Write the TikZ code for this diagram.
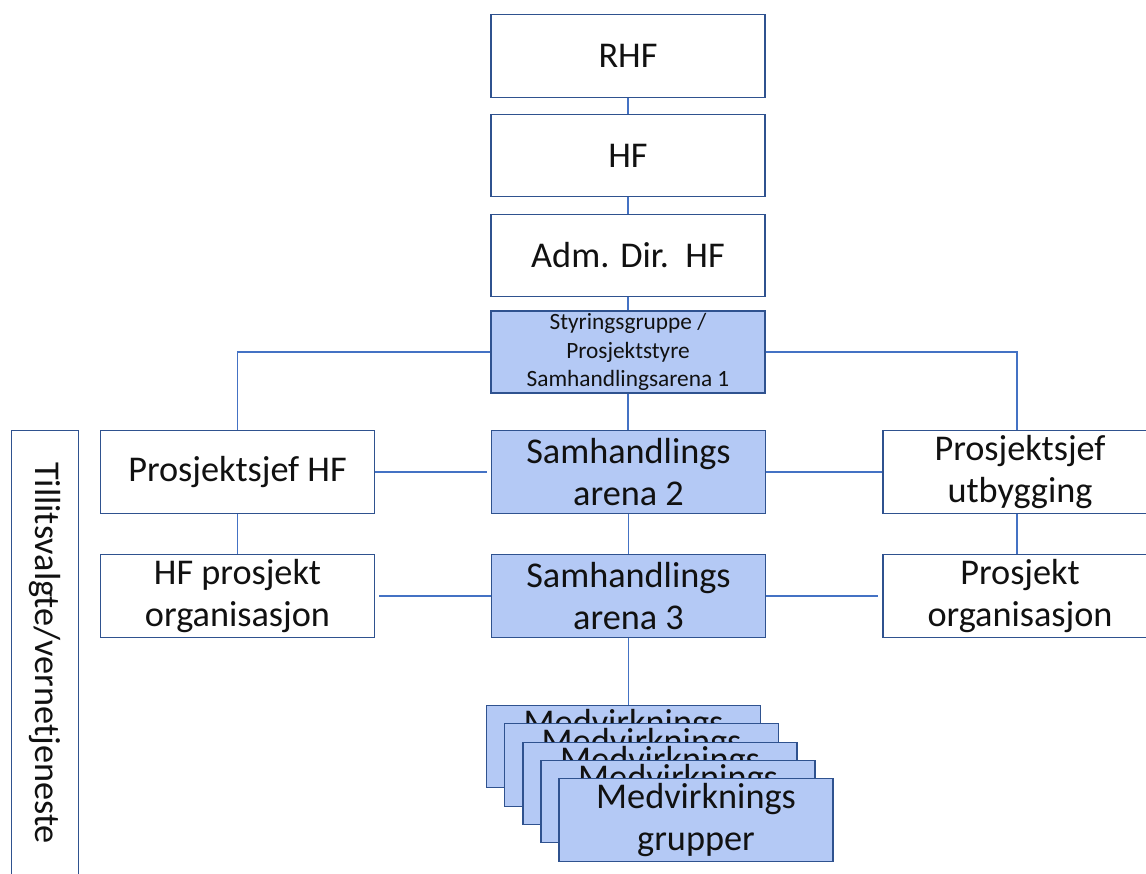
\documentclass[tikz,border=0pt]{standalone}
\usepackage{fontspec}
\setmainfont{Carlito}
\definecolor{linec}{HTML}{4472C4}
\definecolor{boxc}{HTML}{2F528F}
\definecolor{fillc}{HTML}{B4C9F5}
\definecolor{txtc}{HTML}{111111}
\begin{document}
\begin{tikzpicture}[x=0.75pt,y=-0.75pt,
  box/.style={draw=boxc,line width=0.9pt,fill=white,minimum width=205.5pt,minimum height=62pt,
    inner sep=0pt,align=center,text=txtc,font=\fontsize{27.2}{31.5}\selectfont},
  bluebox/.style={box,fill=fillc},
  conn/.style={draw=linec,line width=0.9pt}]
\useasboundingbox (0,0) rectangle (1146,874);
\clip (0,0) rectangle (1146,874);
\fill[white] (0,0) rectangle (1146,874);
% main column
\node[box] (rhf) at (628,56) {RHF};
\node[box] (hf) at (628,155.5) {HF};
\node[box] (adm) at (628,255.5) {Adm. Dir.\ \ HF};
\node[bluebox,minimum height=61.5pt,font=\fontsize{17.5}{21.5}\selectfont] (sty) at (628,352)
  {Styringsgruppe /\\Prosjektstyre\\Samhandlingsarena 1};
\node[bluebox] (sam2) at (628.5,472) {Samhandlings\\arena 2};
\node[bluebox] (sam3) at (628.5,596) {Samhandlings\\arena 3};
% left column
\node[box] (phf) at (237.5,472) {Prosjektsjef HF};
\node[box] (hfp) at (237.5,596) {HF prosjekt\\organisasjon};
% right column
\node[box] (pu) at (1020,472) {Prosjektsjef\\utbygging};
\node[box] (po) at (1020,596) {Prosjekt\\organisasjon};
% stacked groups
\node[bluebox] (m1) at (623.5,746.5) {Medvirknings\\grupper};
\node[bluebox] (m2) at (641.5,765) {Medvirknings\\grupper};
\node[bluebox] (m3) at (660,783.5) {Medvirknings\\grupper};
\node[bluebox] (m4) at (678,801.5) {Medvirknings\\grupper};
\node[bluebox] (m5) at (696,820) {Medvirknings\\grupper};
% left vertical box
\draw[boxc,line width=0.9pt] (11.5,430.5) rectangle (78.5,900);
\node[rotate=-90,text=txtc,font=\fontsize{27.2}{31.5}\selectfont] (tv) at (45,653) {Tillitsvalgte/vernetjeneste};
% connectors
\path[conn] (rhf.south) -- (hf.north);
\path[conn] (hf.south) -- (adm.north);
\path[conn] (adm.south) -- (sty.north);
\path[conn] (sty.south) -- (sam2.north -| sty.south);
\path[conn] (sam2.south) -- (sam3.north);
\path[conn] (sam3.south) -- (sam3.south |- m1.north);
\path[conn] (sty.west) -| (phf.north);
\path[conn] (sty.east) -| ([xshift=-2.25pt]pu.north);
\path[conn] (phf.east) -- ([xshift=-3pt]sam2.west);
\path[conn] (sam2.east) -- (pu.west);
\path[conn] ([xshift=-2.25pt]pu.south) -- ([xshift=-2.25pt]po.north);
\path[conn] (phf.south) -- (hfp.north);
\path[conn] ([xshift=3pt]hfp.east) -- (sam3.west);
\path[conn] (sam3.east) -- ([xshift=-3pt]po.west);
\end{tikzpicture}
\end{document}
